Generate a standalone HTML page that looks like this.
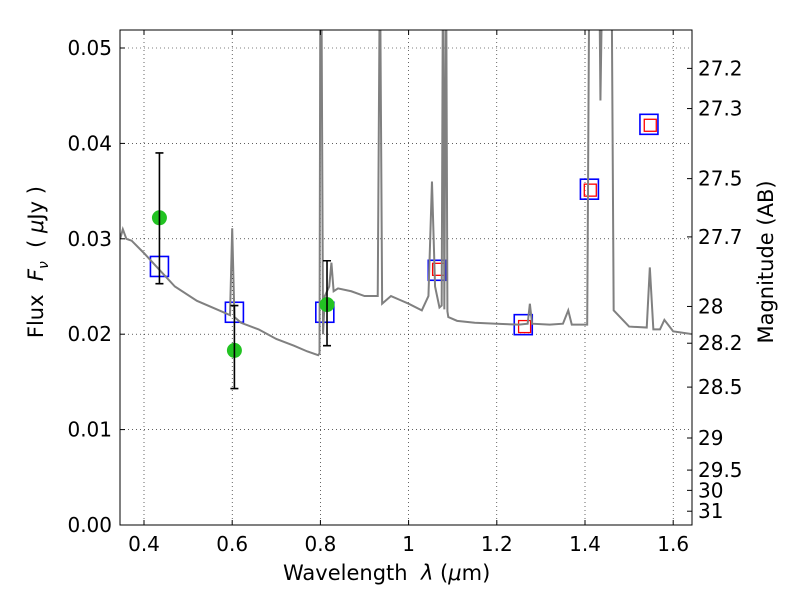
<!DOCTYPE html>
<html><head><meta charset="utf-8"><style>
body{margin:0;background:#fff;}
svg text{font-family:"DejaVu Sans","Liberation Sans",sans-serif;}
</style></head><body>
<svg id="c" width="800" height="600"></svg>
<script>
const specLam=[0.346,0.352,0.36,0.372,0.40,0.43,0.47,0.52,0.57,0.595,0.6,0.605,0.62,0.66,0.70,0.74,0.77,0.795,0.798,0.80,0.802,0.806,0.81,0.82,0.825,0.83,0.84,0.87,0.90,0.93,0.935,0.94,0.96,0.98,1.00,1.03,1.045,1.053,1.06,1.07,1.075,1.078,1.081,1.085,1.088,1.09,1.11,1.15,1.20,1.25,1.27,1.275,1.28,1.32,1.35,1.362,1.37,1.39,1.405,1.41,1.415,1.425,1.432,1.435,1.44,1.455,1.46,1.465,1.50,1.54,1.547,1.555,1.57,1.58,1.60,1.643];
const specFlux=[0.0300,0.0310,0.0300,0.0298,0.0285,0.0270,0.0250,0.0235,0.0225,0.0220,0.0311,0.0218,0.0212,0.0205,0.0195,0.0188,0.0182,0.0178,0.0180,0.060,0.060,0.0200,0.0240,0.0250,0.0275,0.0245,0.0248,0.0245,0.0240,0.0240,0.060,0.0232,0.0240,0.0236,0.0232,0.0225,0.0240,0.0360,0.0250,0.0228,0.0230,0.060,0.0226,0.060,0.0224,0.0218,0.0214,0.0212,0.0211,0.0210,0.0211,0.0232,0.0211,0.0210,0.0211,0.0225,0.0210,0.0210,0.0210,0.060,0.060,0.060,0.060,0.0445,0.060,0.060,0.060,0.0225,0.0208,0.0207,0.0270,0.0205,0.0205,0.0215,0.0203,0.0200];
const obsLam=[0.435,0.605,0.815];
const obsFlux=[0.0322,0.0183,0.0231];
const obsLo=[0.0253,0.0143,0.0188];
const obsHi=[0.0390,0.0230,0.0277];
const modLam=[0.435,0.605,0.81,1.065,1.26,1.41,1.545];
const modFlux=[0.0271,0.0223,0.0223,0.0267,0.0210,0.0352,0.0420];
const synLam=[1.068,1.263,1.412,1.548];
const synFlux=[0.0268,0.0208,0.0351,0.0419];
const xTicks=[0.4,0.6,0.8,1.0,1.2,1.4,1.6];
const xTickLabels=["0.4","0.6","0.8","1","1.2","1.4","1.6"];
const yTicks=[0,0.01,0.02,0.03,0.04,0.05];
const yTickLabels=["0.00","0.01","0.02","0.03","0.04","0.05"];
const magTicks=[27.2,27.3,27.5,27.7,28,28.2,28.5,29,29.5,30,31];

const L=120,R=692,T=30,B=525;
const X=v=>144+(v-0.4)*441;
const Y=v=>525-v*9540;
const NS="http://www.w3.org/2000/svg";
const svg=document.getElementById('c');
function mk(t,a,p){const e=document.createElementNS(NS,t);for(const k in a)e.setAttribute(k,a[k]);(p||svg).appendChild(e);return e;}
const defs=mk('defs',{});const cp=mk('clipPath',{id:'clip'},defs);mk('rect',{x:L,y:T,width:R-L,height:B-T},cp);
xTicks.forEach(v=>{const g=mk('line',{x1:X(v),x2:X(v),y1:T,y2:B,stroke:'#000','stroke-width':0.6,'stroke-dasharray':'1,3'});
});
yTicks.forEach(v=>{const g=mk('line',{x1:L,x2:R,y1:Y(v),y2:Y(v),stroke:'#000','stroke-width':0.6,'stroke-dasharray':'1,3'});
});
const plot=mk('g',{'clip-path':'url(#clip)'});

modLam.forEach((l,i)=>{const s=mk('rect',{x:X(l)-9,y:Y(modFlux[i])-10,width:18,height:20,fill:'none',stroke:'#0000ff','stroke-width':1.6},plot);
});
synLam.forEach((l,i)=>{const s=mk('rect',{x:X(l)-6,y:Y(synFlux[i])-6,width:12,height:12,fill:'none',stroke:'#ff0000','stroke-width':1.3},plot);
});
const sp=mk('polyline',{points:specLam.map((l,i)=>X(l)+','+Y(specFlux[i])).join(' '),fill:'none',stroke:'#808080','stroke-width':2},plot);

obsLam.forEach((l,i)=>{const c=mk('circle',{cx:X(l),cy:Y(obsFlux[i]),r:7.5,fill:'#22c322'},plot);
});
obsLam.forEach((l,i)=>{const x=X(l);
const e=mk('path',{d:`M${x},${Y(obsLo[i])}V${Y(obsHi[i])}M${x-4},${Y(obsLo[i])}H${x+4}M${x-4},${Y(obsHi[i])}H${x+4}`,stroke:'#000','stroke-width':1.6,fill:'none'},plot);
});
const fr=mk('rect',{x:L,y:T,width:R-L,height:B-T,fill:'none',stroke:'#000','stroke-width':1});

xTicks.forEach((v,i)=>{mk('line',{x1:X(v),x2:X(v),y1:B,y2:B-5,stroke:'#000'});mk('line',{x1:X(v),x2:X(v),y1:T,y2:T+5,stroke:'#000'});
const t=mk('text',{x:X(v),y:B+26,'text-anchor':'middle','font-size':20});t.textContent=xTickLabels[i];
});
yTicks.forEach((v,i)=>{mk('line',{x1:L,x2:L+5,y1:Y(v),y2:Y(v),stroke:'#000'});
const t=mk('text',{x:L-8,y:Y(v)+7,'text-anchor':'end','font-size':20});t.textContent=yTickLabels[i];
});
magTicks.forEach(m=>{const f=Math.pow(10,(23.9-m)/2.5);const y=Y(f);
mk('line',{x1:R,x2:R-5,y1:y,y2:y,stroke:'#000'});
const t=mk('text',{x:R+6,y:y+7,'font-size':20});t.textContent=String(m);
});
</script>
<div style="position:absolute;left:283px;top:561px;font:21px 'DejaVu Sans','Liberation Sans',sans-serif">Wavelength &nbsp;<i>λ</i> (<i>μ</i>m)</div>
<div style="position:absolute;left:-62px;top:248px;width:200px;text-align:center;transform:rotate(-90deg);font:21px 'DejaVu Sans','Liberation Sans',sans-serif;white-space:nowrap">Flux &nbsp;<i>F<sub style="font-size:14px">ν</sub></i> &nbsp;( <i>μ</i>Jy )</div>
<div style="position:absolute;left:666px;top:250px;width:200px;text-align:center;transform:rotate(-90deg);font:21px 'DejaVu Sans','Liberation Sans',sans-serif;white-space:nowrap">Magnitude (AB)</div>
</body></html>
